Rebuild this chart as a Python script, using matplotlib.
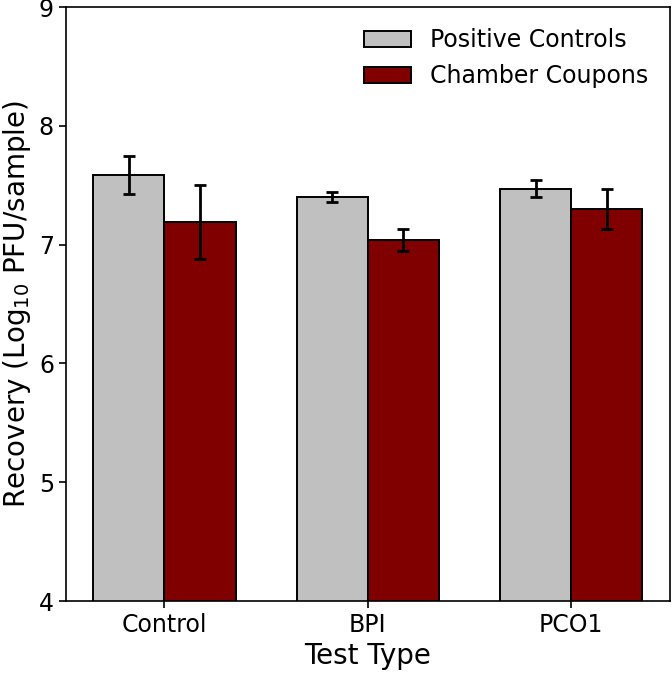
import numpy as np
import matplotlib
matplotlib.use("Agg")
import matplotlib.pyplot as plt

# valeurs (Log10 PFU/sample)
test_types = ["Control", "BPI", "PCO1"]
positive_controls = [7.59, 7.40, 7.47]
positive_err = [0.16, 0.042, 0.073]
chamber_coupons = [7.19, 7.04, 7.30]
chamber_err = [0.31, 0.095, 0.167]

fig = plt.figure(figsize=(6.72, 6.75), dpi=100)
ax = fig.add_axes([0.0978, 0.1096, 0.899, 0.88])

x = np.arange(len(test_types))
w = 0.35
ekw = dict(elinewidth=2, capsize=4.5, capthick=2)
ax.bar(x - w / 2, positive_controls, w, yerr=positive_err, color="silver",
       edgecolor="black", linewidth=1.4, label="Positive Controls", error_kw=ekw)
ax.bar(x + w / 2, chamber_coupons, w, yerr=chamber_err, color="maroon",
       edgecolor="black", linewidth=1.4, label="Chamber Coupons", error_kw=ekw)

ax.set_ylim(4, 9)
ax.set_xticks(x)
ax.set_xticklabels(test_types)
ax.tick_params(labelsize=17, width=1.2, length=5)
ax.set_xlabel("Test Type", fontsize=20)
ax.set_ylabel("Recovery (Log$_{10}$ PFU/sample)", fontsize=20)
ax.legend(loc="upper right", fontsize=17, frameon=False)
for s in ax.spines.values():
    s.set_linewidth(1.2)

fig.savefig("out.png", dpi=100)
